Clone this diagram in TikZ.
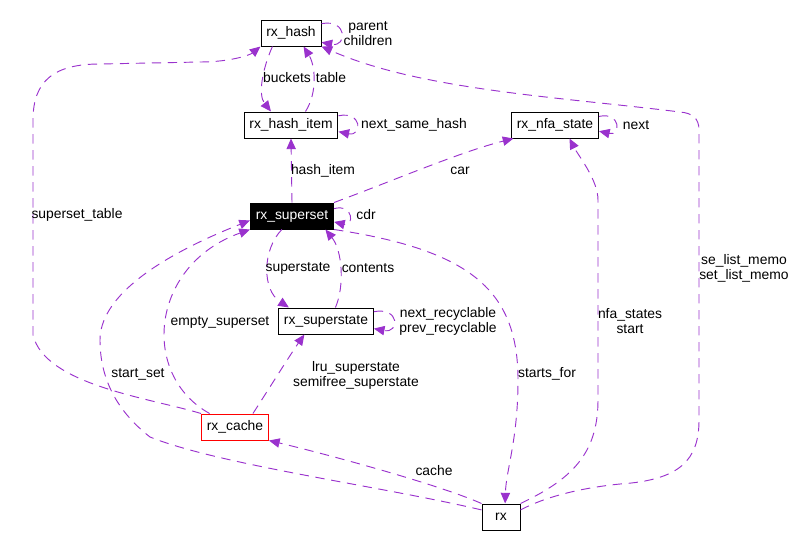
\documentclass[tikz,border=0pt]{standalone}
\usepackage{fontspec}
\setmainfont{Liberation Sans}
\usetikzlibrary{arrows.meta}
\definecolor{linkcol}{RGB}{154,50,205}
\tikzset{
    cls/.style={draw, line width=0.75pt, rectangle, minimum height=19.5pt, minimum width=28.5pt, inner xsep=4pt, inner ysep=0pt},
    link/.style={draw=linkcol, line width=0.7pt, dash pattern=on 7pt off 5pt, -{Triangle[length=8pt,width=7pt]}},
    lbl/.style={inner sep=0pt, align=center}
}

\begin{document}
\begin{tikzpicture}[x=0.75pt, y=-0.75pt, font=\fontsize{10.4}{11.3}\selectfont]
            % Page size, in pixels of the graph
            \def\pagewidth{795}
            \def\pageheight{547}
            \useasboundingbox (0,0) rectangle (\pagewidth,\pageheight);
            % Draw the structs
            \node[cls] (hash) at (291,33) {rx\_hash};
            \node[cls] (hashitem) at (291,125) {rx\_hash\_item};
            \node[cls] (nfastate) at (555,125) {rx\_nfa\_state};
            \node[cls, fill=black, text=white] (superset) at (292,216) {rx\_superset};
            \node[cls] (superstate) at (326,321) {rx\_superstate};
            \node[cls, draw=red] (cache) at (235,427) {rx\_cache};
            \node[cls] (rx) at (501,517) {rx};
            % Members pointing to the same struct
            \foreach \n/\a/\b/\d in {hash/17/-17/26, hashitem/11/-8/24, nfastate/11/-8/22, superset/10/-8/20, superstate/11/-9/26}
                \draw[link] (\n.\a) .. controls +(\d,-5) and +(\d,5) .. (\n.\b);
            % Members pointing to other structs
            \draw[link] (hash.-144) .. controls (262,70) and (258,95) .. (hashitem.146);
            \draw[link] (hashitem.43) .. controls (318,92) and (315,65) .. (hash.-47);
            \draw[link] (superset.north) -- (hashitem.south);
            \draw[link] (superset.north east) .. controls (395,180) and (460,152) .. (nfastate.-162);
            \draw[link] (superset.-127) .. controls (262,250) and (262,290) .. (superstate.160);
            \draw[link] (superstate.55) .. controls (345,285) and (342,250) .. (superset.-22);
            \draw[link] (cache.152) .. controls (140,375) and (150,265) .. (superset.south west);
            \draw[link] (cache.37) .. controls (265,395) and (290,355) .. (superstate.-148);
            \draw[link] (rx.north west) .. controls (440,485) and (330,455) .. (cache.south east);
            \draw[link] (rx.160) .. controls (380,486) and (220,465) .. (150,437)
                .. controls (118,412) and (100,380) .. (100,340)
                .. controls (100,300) and (150,260) .. (superset.186);
            \draw[link] (superset.south east) .. controls (470,250) and (518,290) .. (518,380)
                .. controls (518,440) and (506,470) .. (rx.73);
            \draw[link] (rx.north east) .. controls (570,480) and (598,455) .. (598,400) -- (598,200)
                .. controls (598,180) and (578,155) .. (nfastate.-43);
            \draw[link] (cache.north west) .. controls (150,398) and (45,385) .. (33,335) -- (33,120)
                .. controls (33,80) and (55,64) .. (100,64) -- (200,62)
                .. controls (230,62) and (250,55) .. (hash.south west);
            \draw[link] (rx.20) .. controls (545,497) and (580,488) .. (620,484)
                .. controls (680,480) and (699,460) .. (699,420) -- (699,130)
                .. controls (699,118) and (692,113) .. (680,112)
                .. controls (560,97) and (420,90) .. (hash.south east);
            % Member names
            \node[lbl] (lparent) at (368,33.5) {parent\\children};
            \node[lbl] (lbuckets) at (287,78) {buckets};
            \node[lbl] (ltable) at (331,78) {table};
            \node[lbl] (lsamehash) at (414,125) {next\_same\_hash};
            \node[lbl] (lnext) at (636,125) {next};
            \node[lbl] (lhashitem) at (323,171) {hash\_item};
            \node[lbl] (lcar) at (460,171) {car};
            \node[lbl] (lcdr) at (366,215) {cdr};
            \node[lbl] (lsupertable) at (77,215) {superset\_table};
            \node[lbl] (lsuperstate) at (298,268) {superstate};
            \node[lbl] (lcontents) at (368,268) {contents};
            \node[lbl] (lmemo) at (744,268.5) {se\_list\_memo\\set\_list\_memo};
            \node[lbl] (lrecycle) at (448,321.5) {next\_recyclable\\prev\_recyclable};
            \node[lbl] (lempty) at (220,322) {empty\_superset};
            \node[lbl] (lnfa) at (630,321.5) {nfa\_states\\start};
            \node[lbl] (lstartset) at (138,374) {start\_set};
            \node[lbl] (lstartsfor) at (547,374) {starts\_for};
            \node[lbl] (llru) at (356,375) {lru\_superstate\\semifree\_superstate};
            \node[lbl] (lcache) at (434,471) {cache};
        \end{tikzpicture}
\end{document}
